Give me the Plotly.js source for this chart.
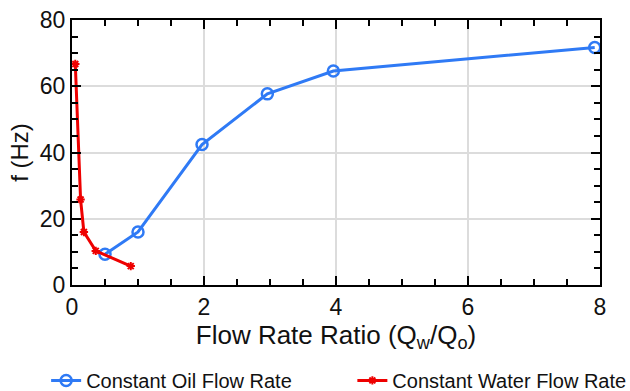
<!DOCTYPE html>
<html>
<head>
<meta charset="utf-8">
<script src="https://cdn.plot.ly/plotly-3.0.1.min.js"></script>
<style>html,body{margin:0;padding:0;background:#fff;}#chart{width:630px;height:391px;}</style>
</head>
<body>
<div id="chart"></div>
<script>
const oilRatio = [0.5, 1.0, 1.97, 2.96, 3.96, 7.92];
const oilFreq = [9.3, 16.0, 42.4, 57.7, 64.6, 71.7];
const waterRatio = [0.05, 0.13, 0.18, 0.36, 0.89];
const waterFreq = [66.7, 25.8, 16.0, 10.3, 5.7];
const seriesNames = ['Constant Oil Flow Rate', 'Constant Water Flow Rate'];

const font = 'Liberation Sans, Arial, Helvetica, sans-serif';

const traces = [
  {
    x: oilRatio, y: oilFreq, name: seriesNames[0], type: 'scatter', mode: 'lines+markers',
    legend: 'legend',
    line: {color: '#2f7af5', width: 3},
    marker: {symbol: 'circle-open', size: 11, color: '#2f7af5', line: {width: 2.5, color: '#2f7af5'}}
  },
  {
    x: waterRatio, y: waterFreq, name: seriesNames[1], type: 'scatter', mode: 'lines+markers',
    legend: 'legend2',
    line: {color: '#ee0000', width: 3},
    marker: {symbol: 'asterisk-open', size: 7, color: '#ee0000', line: {width: 2, color: '#ee0000'}}
  }
];

const axisCommon = {
  showline: true, linecolor: '#000', linewidth: 2, mirror: 'ticks',
  ticks: 'inside', ticklen: 9, tickwidth: 2, tickcolor: '#000',
  showgrid: true, gridcolor: '#dcdcdc', gridwidth: 2,
  zeroline: false,
  tickfont: {family: font, size: 23, color: '#111'}
};

const legendCommon = {
  orientation: 'h', yanchor: 'middle', y: -0.36, xanchor: 'left',
  font: {family: font, size: 20, color: '#111'},
  bgcolor: 'rgba(0,0,0,0)'
};

const layout = {
  width: 630, height: 391,
  margin: {l: 72, r: 30, t: 20, b: 106, autoexpand: false},
  paper_bgcolor: '#fff', plot_bgcolor: '#fff',
  showlegend: true,
  xaxis: Object.assign({}, axisCommon, {
    range: [0, 8], dtick: 2, tick0: 0,
    minor: {dtick: 0.5, ticks: 'inside', ticklen: 6, tickwidth: 2, tickcolor: '#000', showgrid: false},
    title: {text: 'Flow Rate Ratio (Q<sub>w</sub>/Q<sub>o</sub>)', font: {family: font, size: 26, color: '#111'}, standoff: 7}
  }),
  yaxis: Object.assign({}, axisCommon, {
    range: [0, 80], dtick: 20, tick0: 0,
    minor: {dtick: 5, ticks: 'inside', ticklen: 6, tickwidth: 2, tickcolor: '#000', showgrid: false},
    title: {text: 'f (Hz)', font: {family: font, size: 24, color: '#111'}, standoff: 4}
  }),
  legend: Object.assign({}, legendCommon, {x: -0.049}),
  legend2: Object.assign({}, legendCommon, {x: 0.531})
};

Plotly.newPlot('chart', traces, layout, {displayModeBar: false, staticPlot: true});
</script>
</body>
</html>
